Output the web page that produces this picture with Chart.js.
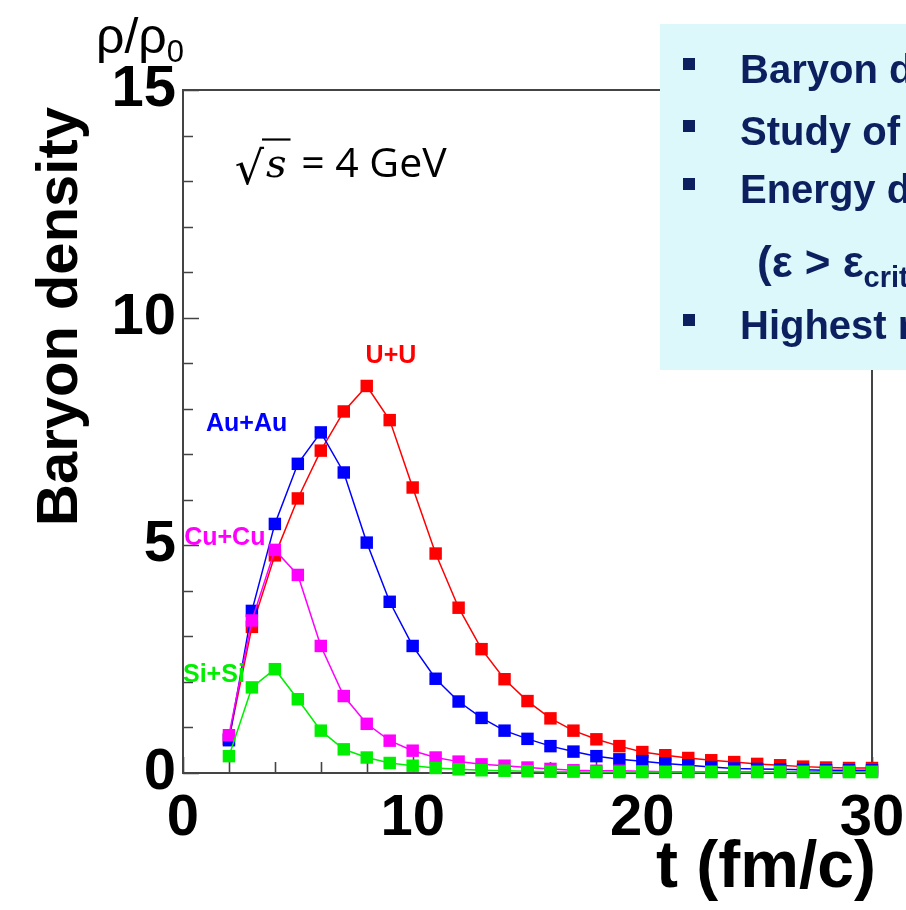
<!DOCTYPE html>
<html>
<head>
<meta charset="utf-8">
<script src="https://cdn.jsdelivr.net/npm/chart.js@4.4.1/dist/chart.umd.min.js"></script>
<style>
  html, body { margin: 0; padding: 0; background: #fff; }
  #wrap { width: 906px; height: 910px; position: relative; }
</style>
</head>
<body>
<div id="wrap"><canvas id="c" width="906" height="910"></canvas></div>
<script>
// Time after first contact, fm/c
const times = [2, 3, 4, 5, 6, 7, 8, 9, 10, 11, 12, 13, 14, 15, 16, 17, 18, 19, 20,
               21, 22, 23, 24, 25, 26, 27, 28, 29, 30];

// Central baryon density rho/rho0 for each system
const uuDensity   = [0.75, 3.21, 4.78, 6.03, 7.08, 7.94, 8.50, 7.75, 6.27, 4.82, 3.63, 2.72, 2.06, 1.58, 1.20,
                     0.93, 0.74, 0.59, 0.46, 0.39, 0.33, 0.28, 0.24, 0.20, 0.17, 0.14, 0.12, 0.11, 0.11];
const auauDensity = [0.72, 3.56, 5.47, 6.79, 7.48, 6.60, 5.06, 3.76, 2.79, 2.07, 1.57, 1.21, 0.93, 0.75, 0.59,
                     0.47, 0.37, 0.30, 0.26, 0.21, 0.17, 0.13, 0.10, 0.09, 0.08, 0.07, 0.06, 0.06, 0.06];
const cucuDensity = [0.83, 3.35, 4.90, 4.35, 2.79, 1.69, 1.08, 0.71, 0.49, 0.34, 0.25, 0.19, 0.16, 0.12, 0.09,
                     0.06, 0.05, 0.05, 0.04, 0.03, 0.03, 0.03, 0.03, 0.03, 0.03, 0.03, 0.03, 0.03, 0.03];
const sisiDensity = [0.37, 1.88, 2.28, 1.62, 0.93, 0.52, 0.34, 0.22, 0.16, 0.11, 0.08, 0.06, 0.05, 0.04, 0.03,
                     0.03, 0.02, 0.02, 0.02, 0.02, 0.02, 0.02, 0.02, 0.02, 0.02, 0.02, 0.02, 0.02, 0.02];

const systemNames  = ['U+U', 'Au+Au', 'Cu+Cu', 'Si+Si'];
const systemColors = ['#ff0000', '#0000ff', '#ff00ff', '#00ee00'];

// Axis ranges and tick labels
const xRange = [0, 30];
const yRange = [0, 15];
const xTickLabels = [0, 10, 20, 30];
const yTickLabels = [0, 5, 10, 15];
const xMinorStep = 2;
const yMinorStep = 1;

// Where each system name sits, in (t, rho/rho0) units: left edge / baseline
const nameAnchors = [[7.95, 9.0], [1.0, 7.52], [0.05, 5.0], [0.0, 2.0]];

const panelLines = ['Baryon density', 'Study of', 'Energy density', '', 'Highest net baryon density'];

const BOLD = '"Liberation Sans", Arial, Helvetica, sans-serif';

function series(values) {
  return times.map((t, i) => ({ x: t, y: values[i] }));
}

const allSeries = [uuDensity, auauDensity, cucuDensity, sisiDensity];
const datasets = allSeries.map((vals, i) => ({
  label: systemNames[i],
  data: series(vals),
  borderColor: systemColors[i],
  backgroundColor: systemColors[i],
  borderWidth: 1.5,
  pointStyle: 'rect',
  pointRadius: 8.8,
  pointHoverRadius: 8.8,
  pointBorderWidth: 0,
  pointBackgroundColor: systemColors[i],
  tension: 0,
  fill: false,
  clip: false,
  order: 4 - i
}));

// ROOT-style frame with inward ticks
const frame = {
  id: 'frame',
  beforeDatasetsDraw(chart) {
    const { ctx, chartArea: a, scales: { x, y } } = chart;
    ctx.save();
    ctx.strokeStyle = '#444';
    ctx.lineWidth = 2;
    ctx.strokeRect(a.left, a.top, a.right - a.left, a.bottom - a.top);
    ctx.beginPath();
    for (let v = yRange[0]; v <= yRange[1]; v += yMinorStep) {
      const py = Math.round(y.getPixelForValue(v)) + 0.5;
      const len = yTickLabels.includes(v) ? 16 : 10;
      ctx.moveTo(a.left, py);
      ctx.lineTo(a.left + len, py);
    }
    for (let t = xRange[0]; t <= xRange[1]; t += xMinorStep) {
      const px = Math.round(x.getPixelForValue(t)) + 0.5;
      const len = xTickLabels.includes(t) ? 16 : 11;
      ctx.moveTo(px, a.bottom);
      ctx.lineTo(px, a.bottom - len);
    }
    ctx.lineWidth = 1.6;
    ctx.stroke();
    ctx.restore();
  }
};

// Titles, system names, energy label and the bullet panel
const decorations = {
  id: 'decorations',
  afterDatasetsDraw(chart) {
    const { ctx, chartArea: a, scales: { x, y } } = chart;
    ctx.save();

    // system names
    ctx.font = 'bold 25px ' + BOLD;
    ctx.textAlign = 'left';
    ctx.textBaseline = 'alphabetic';
    nameAnchors.forEach(([t, v], i) => {
      ctx.fillStyle = systemColors[i];
      ctx.fillText(systemNames[i], x.getPixelForValue(t), y.getPixelForValue(v));
    });

    // sqrt(s) = 4 GeV
    const ex = x.getPixelForValue(2.25);
    const ey = y.getPixelForValue(13.1);
    ctx.fillStyle = '#000';
    ctx.font = '46px "DejaVu Sans"';
    ctx.fillText('\u221A', ex, ey + 7);
    const rw = ctx.measureText('\u221A').width;
    ctx.font = 'italic 40px "DejaVu Serif"';
    const sx = ex + rw - 2;
    ctx.fillText('s', sx + 4, ey);
    const sw = ctx.measureText('s').width;
    ctx.strokeStyle = '#000';
    ctx.lineWidth = 2.2;
    ctx.beginPath();
    ctx.moveTo(sx, ey - 37);
    ctx.lineTo(sx + sw + 8, ey - 37);
    ctx.stroke();
    ctx.font = '41px "Open Sans"';
    ctx.fillText(' = 4 GeV', sx + sw + 8, ey);

    // y-axis title (rotated)
    ctx.save();
    ctx.translate(77, a.top + 17);
    ctx.rotate(-Math.PI / 2);
    ctx.font = 'bold 58px ' + BOLD;
    ctx.textAlign = 'right';
    ctx.fillStyle = '#000';
    ctx.fillText('Baryon density', 0, 0);
    ctx.restore();

    // unit above the y axis
    ctx.font = '50px "Liberation Sans"';
    ctx.fillStyle = '#000';
    ctx.textAlign = 'left';
    ctx.fillText('\u03C1/\u03C1', 96, 53);
    const uw = ctx.measureText('\u03C1/\u03C1').width;
    ctx.font = '31px "Liberation Sans"';
    ctx.fillText('0', 96 + uw, 62);

    // x-axis title
    ctx.font = 'bold 66px ' + BOLD;
    ctx.textAlign = 'right';
    ctx.fillText('t (fm/c)', a.right + 4, 887);

    ctx.restore();
  },
  afterDraw(chart) {
    const { ctx } = chart;
    ctx.save();
    ctx.fillStyle = '#dcf8fa';
    ctx.fillRect(660, 24, 246, 346);
    const navy = '#0c1f5f';
    ctx.fillStyle = navy;
    ctx.font = 'bold 40px ' + BOLD;
    ctx.textAlign = 'left';
    ctx.textBaseline = 'alphabetic';
    const baselines = [83, 145, 203, 277, 339];
    panelLines.forEach((txt, i) => {
      if (!txt) return;
      ctx.fillRect(683, baselines[i] - 25, 12, 12);
      ctx.fillText(txt, 740, baselines[i]);
    });
    // (epsilon > epsilon_crit)
    const b4 = baselines[3];
    ctx.font = 'bold 44px ' + BOLD;
    ctx.fillText('(\u03B5 > \u03B5', 757, b4);
    const w4 = ctx.measureText('(\u03B5 > \u03B5').width;
    ctx.font = 'bold 29px ' + BOLD;
    ctx.fillText('crit', 757 + w4, b4 + 10);
    const wc = ctx.measureText('crit').width;
    ctx.font = 'bold 44px ' + BOLD;
    ctx.fillText(')', 757 + w4 + wc, b4);
    ctx.restore();
  }
};

const tickFont = { family: BOLD, size: 58, weight: 'bold' };

new Chart(document.getElementById('c'), {
  type: 'line',
  data: { datasets },
  options: {
    responsive: false,
    animation: false,
    events: [],
    layout: { padding: { top: 90, right: 34, left: 0, bottom: 0 } },
    plugins: { legend: { display: false }, tooltip: { enabled: false } },
    scales: {
      x: {
        type: 'linear',
        min: xRange[0], max: xRange[1],
        grid: { display: false, drawTicks: false },
        border: { display: false },
        afterBuildTicks(s) { s.ticks = xTickLabels.map(v => ({ value: v })); },
        ticks: { font: tickFont, color: '#000', padding: 11, maxRotation: 0, autoSkip: false },
        afterFit(s) { s.height = 137; s.paddingLeft = 0; s.paddingRight = 0; }
      },
      y: {
        type: 'linear',
        min: yRange[0], max: yRange[1],
        grid: { display: false, drawTicks: false },
        border: { display: false },
        afterBuildTicks(s) { s.ticks = yTickLabels.map(v => ({ value: v })); },
        ticks: { font: tickFont, color: '#000', padding: 7, autoSkip: false },
        afterFit(s) { s.width = 183; s.paddingTop = 0; s.paddingBottom = 0; }
      }
    }
  },
  plugins: [frame, decorations]
});
</script>
</body>
</html>
